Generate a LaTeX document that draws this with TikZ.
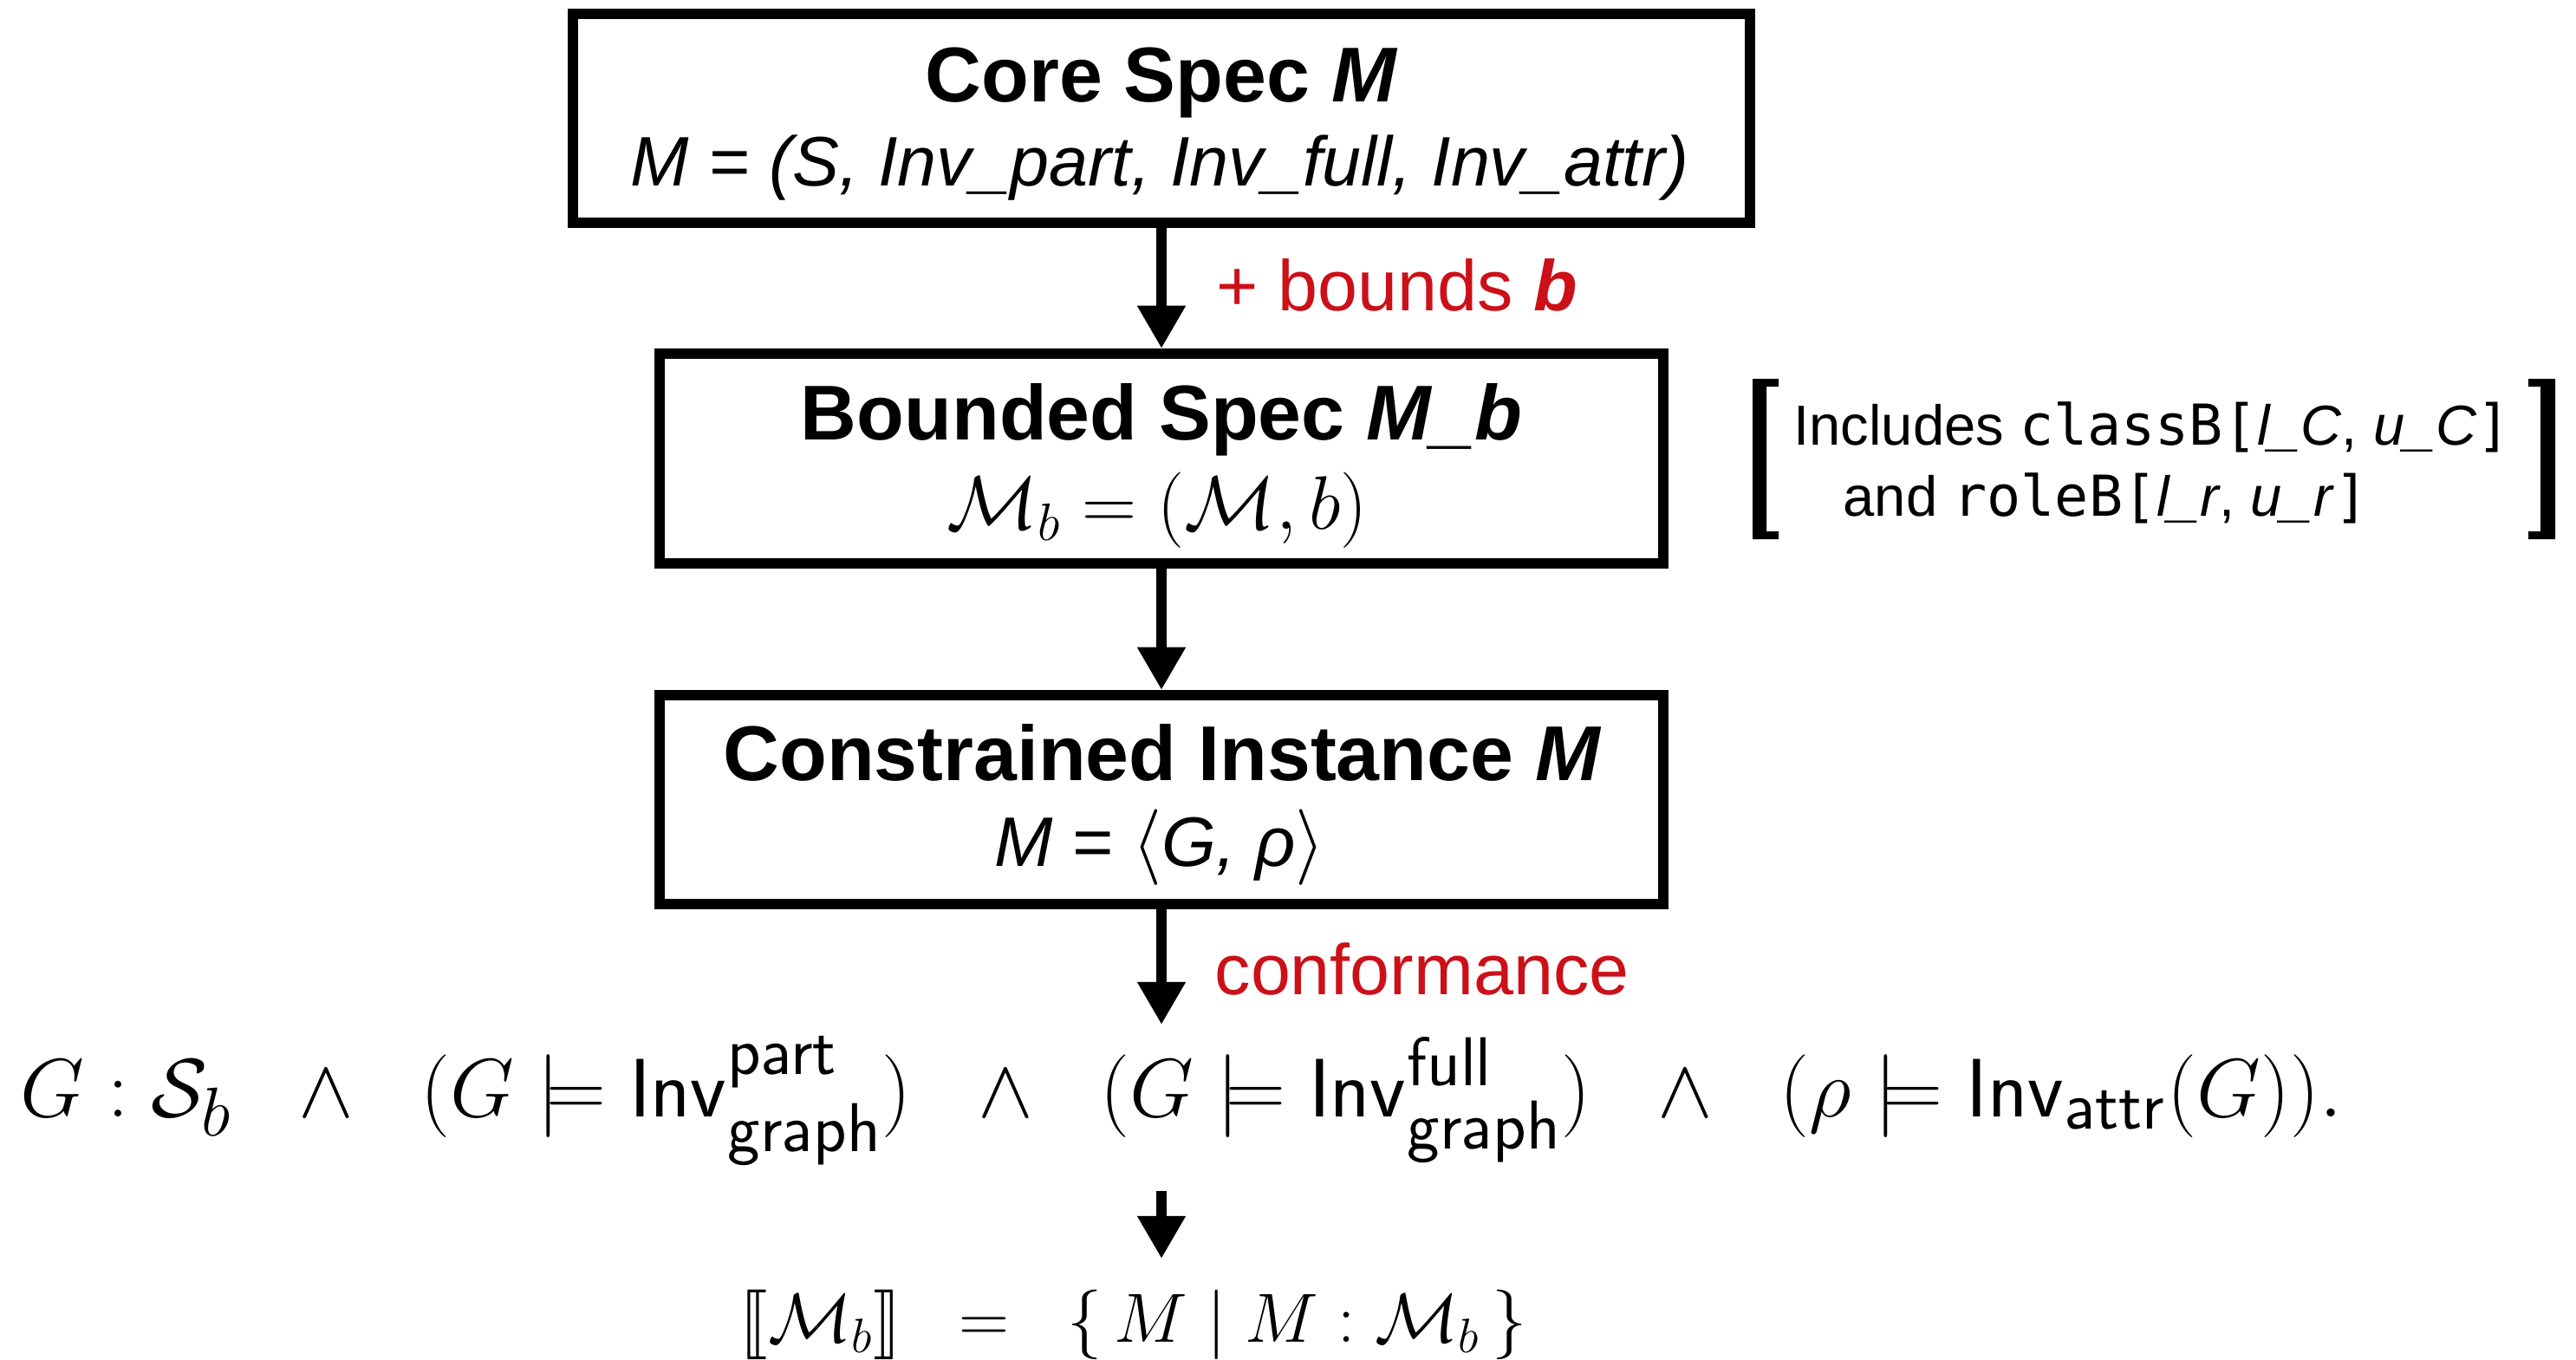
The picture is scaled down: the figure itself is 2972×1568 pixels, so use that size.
\documentclass[tikz,border=0pt]{standalone}
\usepackage[no-math]{fontspec}
\setmainfont{Liberation Sans}
\newfontfamily\monofam{DejaVu Sans Mono}
\usepackage{amsmath,amssymb}
\usepackage{stmaryrd}
\usetikzlibrary{arrows.meta}
\definecolor{lblred}{RGB}{204,16,24}
\tikzset{
  boxnode/.style={draw=black, line width=3.41pt, minimum width=13.58cm, minimum height=2.41cm, inner sep=0pt},
  flow/.style={line width=3.4pt, -{Triangle[length=14pt,width=15pt]}},
  titletxt/.style={anchor=base, inner sep=0pt, font=\fontsize{25.5}{30}\selectfont\bfseries},
  subtxt/.style={anchor=base, inner sep=0pt, font=\fontsize{23}{28}\selectfont\itshape},
  lbl/.style={anchor=base west, inner sep=0pt, text=lblred, font=\fontsize{23.5}{28}\selectfont},
  notetxt/.style={anchor=base west, inner sep=0pt, font=\fontsize{18.5}{23}\selectfont},
  brk/.style={fill=black, draw=none}
}
\begin{document}
\begin{tikzpicture}[x=0.01cm, y=-0.01cm]
\useasboundingbox (0,0) rectangle (2972,1568);
% boxes
\node[boxnode, minimum width=13.58cm, minimum height=2.41cm] (b1) at (1340,136.5) {};
\node[boxnode, minimum width=11.58cm, minimum height=2.42cm] (b2) at (1340,529) {};
\node[boxnode, minimum width=11.58cm, minimum height=2.41cm] (b3) at (1340,922.5) {};
% box texts
\node[titletxt] (t1a) at (1340,117) {Core Spec \textit{M}};
\node[subtxt] (t1b) at (1338,214) {M = (S, Inv\_part, Inv\_full, Inv\_attr)};
\node[titletxt] (t2a) at (1340,507) {Bounded Spec \textit{M\_b}};
\node[anchor=base, inner sep=0pt, font=\fontsize{24}{28}\selectfont] (t2b) at (1335,610) {$\mathcal{M}_b = (\mathcal{M}, b)$};
\node[titletxt] (t3a) at (1341,900) {Constrained Instance \textit{M}};
\node[subtxt] (t3b) at (1338,999) {M = {\upshape$\langle$}G, ρ{\upshape$\rangle$}};
% connectors
\coordinate (c3end) at (1340,1182);
\coordinate (c4start) at (1340,1374);
\coordinate (c4end) at (1340,1452);
\draw[flow] (b1.south) -- (b2.north);
\draw[flow] (b2.south) -- (b3.north);
\draw[flow] (b3.south) -- (c3end);
\draw[flow] (c4start) -- (c4end);
% labels
\node[lbl] (l1) at (1403,358) {+ bounds \textbf{\textit{b}}};
\node[lbl] (l2) at (1401,1147) {conformance};
% formula
\node[anchor=base west, inner sep=0pt, font=\fontsize{29}{34}\selectfont] (f1) at (23,1288)
 {\resizebox{26.77cm}{!}{$G : \mathcal{S}_b \hspace{0.5em}\wedge\hspace{0.5em} (G \models \mathsf{Inv}^{\mathsf{part}}_{\mathsf{graph}}) \hspace{0.5em}\wedge\hspace{0.5em} (G \models \mathsf{Inv}^{\mathsf{full}}_{\mathsf{graph}}) \hspace{0.5em}\wedge\hspace{0.5em} (\rho \models \mathsf{Inv}_{\mathsf{attr}}(G)).$}};
\node[anchor=base west, inner sep=0pt, font=\fontsize{23}{28}\selectfont] (f2) at (853,1548)
 {\resizebox{9.07cm}{!}{$\llbracket\mathcal{M}_b\rrbracket \;\;=\;\; \{\, M \mid M : \mathcal{M}_b \,\}$}};
% note with brackets
\fill[brk] (2022,437) -- (2052,437) -- (2052,446) -- (2038,446) -- (2038,613) -- (2052,613) -- (2052,622) -- (2022,622) -- cycle;
\fill[brk] (2948,437) -- (2917,437) -- (2917,446) -- (2931,446) -- (2931,613) -- (2917,613) -- (2917,622) -- (2948,622) -- cycle;
\node[notetxt] (n1) at (2069,513) {Includes {\monofam classB[}\textit{l\_C}, \textit{u\_C}{\monofam ]}};
\node[notetxt] (n2) at (2126,595) {and {\monofam roleB[}\textit{l\_r}, \textit{u\_r}{\monofam ]}};
\end{tikzpicture}
\end{document}
